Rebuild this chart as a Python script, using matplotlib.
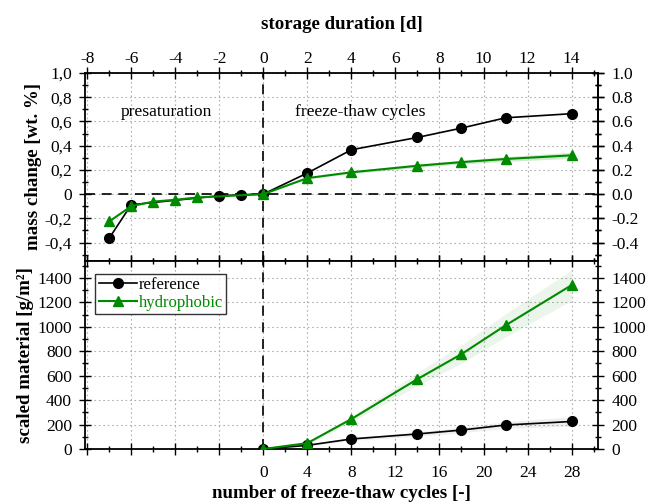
import matplotlib
matplotlib.use("Agg")
import matplotlib.pyplot as plt
from matplotlib.ticker import MultipleLocator, FuncFormatter, FixedLocator

plt.rcParams['font.family'] = ['Liberation Serif', 'DejaVu Serif']
plt.rcParams['axes.unicode_minus'] = False

GREEN = '#008a00'

# mass change vs storage duration [d]
days_ref = [-7, -6, -2, -1, 0, 2, 4, 7, 9, 11, 14]
mass_ref = [-0.364, -0.088, -0.014, -0.006, 0.0,
            0.174, 0.366, 0.468, 0.545, 0.63, 0.664]
days_hyd = [-7, -6, -5, -4, -3, 0, 2, 4, 7, 9, 11, 14]
mass_hyd = [-0.226, -0.10, -0.062, -0.047, -0.028, 0.0,
            0.132, 0.18, 0.234, 0.264, 0.29, 0.32]
mass_hyd_sd = [0, 0, 0, 0, 0, 0, 0.006, 0.01, 0.014, 0.016, 0.02, 0.025]

# scaled material vs number of freeze-thaw cycles
cycles = [0, 4, 8, 14, 18, 22, 28]
scaled_ref = [0, 30, 82, 123, 155, 196, 225]
scaled_hyd = [0, 48, 245, 572, 776, 1011, 1340]
scaled_ref_sd = [0, 5, 12, 18, 22, 28, 38]
scaled_hyd_sd = [0, 8, 25, 55, 75, 95, 125]

day_ticks = [-8, -6, -4, -2, 0, 2, 4, 6, 8, 10, 12, 14]

fig = plt.figure(figsize=(6.47, 5.04), dpi=100)
L, R = 85 / 647, 598 / 647
y_top, y_mid, y_bot = 1 - 73 / 504, 1 - 260.7 / 504, 1 - 449 / 504
ax1 = fig.add_axes([L, y_mid, R - L, y_top - y_mid])
ax2 = fig.add_axes([L, y_bot, R - L, y_mid - y_bot])

FS = 12.5
LFS = 13.6
grid_kw = dict(color='#b0b0b0', linestyle=(0, (1.5, 2.5)), linewidth=0.8)


def style_ticks(axis_obj, axis='both', pad=5.5):
    axis_obj.tick_params(axis=axis, which='both', direction='inout',
                         labelsize=FS, width=1.0, pad=pad)
    axis_obj.tick_params(axis=axis, which='major', length=8)
    axis_obj.tick_params(axis=axis, which='minor', length=4)


# ---------- upper panel ----------
xlo, xhi = -8.1, 15.2
ax1.set_xlim(xlo, xhi)
ax1.set_ylim(-0.55, 1.0)
ax1.fill_between(days_hyd, [m - s for m, s in zip(mass_hyd, mass_hyd_sd)],
                 [m + s for m, s in zip(mass_hyd, mass_hyd_sd)],
                 color=GREEN, alpha=0.18, lw=0, zorder=2)
ax1.plot(days_ref, mass_ref, '-o', color='black', lw=1.2, ms=7, zorder=3)
ax1.plot(days_hyd, mass_hyd, '-^', color=GREEN, lw=1.5, ms=7.5, zorder=4)
ax1.axhline(0, color='black', lw=1.2, ls=(0, (6, 4)), zorder=2)
ax1.axvline(0, color='black', lw=1.2, ls=(0, (6, 4)), zorder=2)
ax1.text(-4.4, 0.68, 'presaturation', ha='center', va='center', fontsize=12.6)
ax1.text(4.4, 0.68, 'freeze-thaw cycles', ha='center', va='center', fontsize=12.6)

ax1.xaxis.set_major_locator(FixedLocator(day_ticks))
ax1.xaxis.set_minor_locator(MultipleLocator(1))
ax1.yaxis.set_major_locator(MultipleLocator(0.2))
ax1.yaxis.set_minor_locator(MultipleLocator(0.1))
ax1.yaxis.set_major_formatter(FuncFormatter(
    lambda v, p: '0' if abs(v) < 1e-9 else f'{v:.1f}'.replace('.', ',')))
ax1.tick_params(which='both', top=True, bottom=True, left=True, right=True,
                labeltop=True, labelbottom=False, labelright=False)
style_ticks(ax1, 'y', pad=5.5)
style_ticks(ax1, 'x', pad=0.5)
ax1.xaxis.set_label_position('top')
ax1.set_xlabel('storage duration [d]', fontsize=LFS, fontweight='bold', labelpad=16)
ax1.set_ylabel('mass change [wt. %]', fontsize=LFS, fontweight='bold', labelpad=2)
ax1.grid(True, which='major', **grid_kw)
sec1 = ax1.secondary_yaxis('right')
sec1.yaxis.set_major_locator(MultipleLocator(0.2))
sec1.yaxis.set_minor_locator(MultipleLocator(0.1))
sec1.yaxis.set_major_formatter(FuncFormatter(lambda v, p: f'{v + 0:.1f}'))
style_ticks(sec1, 'y', pad=5.5)

# ---------- lower panel ----------
ax2.set_xlim(2 * xlo, 2 * xhi)
ax2.set_ylim(0, 1540)
ax2.fill_between(cycles, [m - s for m, s in zip(scaled_hyd, scaled_hyd_sd)],
                 [m + s for m, s in zip(scaled_hyd, scaled_hyd_sd)],
                 color=GREEN, alpha=0.08, lw=0, zorder=2)
ax2.fill_between(cycles, [m - s for m, s in zip(scaled_ref, scaled_ref_sd)],
                 [m + s for m, s in zip(scaled_ref, scaled_ref_sd)],
                 color='#808080', alpha=0.12, lw=0, zorder=2)
ax2.plot(cycles, scaled_ref, '-o', color='black', lw=1.2, ms=7, zorder=3,
         label='reference')
ax2.plot(cycles, scaled_hyd, '-^', color=GREEN, lw=1.5, ms=7.5, zorder=4,
         label='hydrophobic')
ax2.axvline(0, color='black', lw=1.2, ls=(0, (6, 4)), zorder=2)

ax2.xaxis.set_major_locator(MultipleLocator(4))
ax2.xaxis.set_minor_locator(MultipleLocator(2))
ax2.xaxis.set_major_formatter(FuncFormatter(
    lambda v, p: f'{int(round(v))}' if -1e-9 <= v <= 28.5 else ''))
ax2.yaxis.set_major_locator(MultipleLocator(200))
ax2.yaxis.set_minor_locator(MultipleLocator(100))
ax2.tick_params(which='both', top=True, bottom=True, left=True, right=True,
                labelright=True)
style_ticks(ax2, 'y', pad=5.5)
style_ticks(ax2, 'x', pad=7.5)
ax2.set_xlabel('number of freeze-thaw cycles [-]', fontsize=LFS,
               fontweight='bold', labelpad=3)
ax2.set_ylabel('scaled material [g/m²]', fontsize=LFS, fontweight='bold',
               labelpad=2)
ax2.grid(True, which='major', **grid_kw)

leg = ax2.legend(loc='upper left', bbox_to_anchor=(0.02, 0.93), fontsize=12,
                 frameon=True, fancybox=False, edgecolor='black',
                 handlelength=2.3, handletextpad=0.1, borderpad=0.2,
                 labelspacing=0.1, borderaxespad=0)
leg.get_frame().set_linewidth(1.0)
for txt, line in zip(leg.get_texts(), leg.get_lines()):
    txt.set_color(line.get_color())

for ax in (ax1, ax2):
    for s in ax.spines.values():
        s.set_linewidth(1.3)
sec1.spines['right'].set_linewidth(1.3)

fig.savefig('out.png', dpi=100)
